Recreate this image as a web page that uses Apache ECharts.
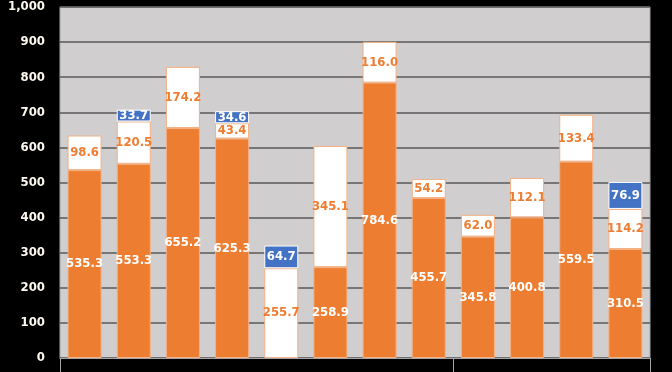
<!DOCTYPE html>
<html>
<head>
<meta charset="utf-8">
<script src="https://cdn.jsdelivr.net/npm/echarts@6/dist/echarts.min.js"></script>
<style>
  html, body { margin: 0; padding: 0; background: #000; }
  #chart { width: 672px; height: 372px; }
</style>
</head>
<body>
<div id="chart"></div>
<script>
// stacked bars: orange base, white middle, blue top
const categories = ['1', '2', '3', '4', '5', '6', '7', '8', '9', '10', '11', '12']
const orangeValues = [535.3, 553.3, 655.2, 625.3, null, 258.9, 784.6, 455.7, 345.8, 400.8, 559.5, 310.5]
const whiteValues = [98.6, 120.5, 174.2, 43.4, 255.7, 345.1, 116.0, 54.2, 62.0, 112.1, 133.4, 114.2]
const blueValues = [null, 33.7, null, 34.6, 64.7, null, null, null, null, null, null, 76.9]
const yTicks = [0, 100, 200, 300, 400, 500, 600, 700, 800, 900, 1000]

const FONT = '"DejaVu Sans Condensed", "Liberation Sans Narrow", sans-serif'

const chart = echarts.init(document.getElementById('chart'))

function labelOf (color) {
  return {
    show: true,
    position: 'inside',
    color: color,
    fontFamily: FONT,
    fontWeight: 'bold',
    fontSize: 13,
    formatter: p => p.value == null ? '' : Number(p.value).toFixed(1)
  }
}

chart.setOption({
  backgroundColor: '#000',
  animation: false,
  grid: {
    left: 60,
    right: 22,
    top: 7,
    bottom: 14,
    show: true,
    backgroundColor: '#d0cece',
    borderColor: '#a6a6a6',
    borderWidth: 1
  },
  xAxis: {
    type: 'category',
    data: categories,
    axisLine: { show: true, lineStyle: { color: '#a6a6a6', width: 1 } },
    axisTick: {
      show: true,
      length: 16,
      interval: (i) => i === 0 || i === 8,
      lineStyle: { color: '#a6a6a6', width: 1 }
    },
    axisLabel: { show: false }
  },
  yAxis: {
    type: 'value',
    min: yTicks[0],
    max: yTicks[yTicks.length - 1],
    interval: 100,
    axisLine: { show: false },
    axisTick: { show: false },
    splitLine: { lineStyle: { color: '#595959', width: 1.5 } },
    axisLabel: {
      color: '#fffaf0',
      fontFamily: FONT,
      fontWeight: 'bold',
      fontSize: 13,
      margin: 15,
      formatter: v => v.toLocaleString('en-US')
    }
  },
  series: [
    {
      name: 'orange',
      type: 'bar',
      stack: 'total',
      barWidth: 34,
      data: orangeValues,
      itemStyle: { color: '#ed7d31', borderColor: '#f4b183', borderWidth: 1 },
      label: labelOf('#ffffff')
    },
    {
      name: 'white',
      type: 'bar',
      stack: 'total',
      barWidth: 34,
      data: whiteValues,
      itemStyle: { color: '#ffffff', borderColor: '#f4b183', borderWidth: 1 },
      label: labelOf('#ed7d31')
    },
    {
      name: 'blue',
      type: 'bar',
      stack: 'total',
      barWidth: 34,
      data: blueValues,
      itemStyle: { color: '#4472c4', borderColor: '#ffffff', borderWidth: 1 },
      label: labelOf('#ffffff')
    }
  ]
})
</script>
</body>
</html>
